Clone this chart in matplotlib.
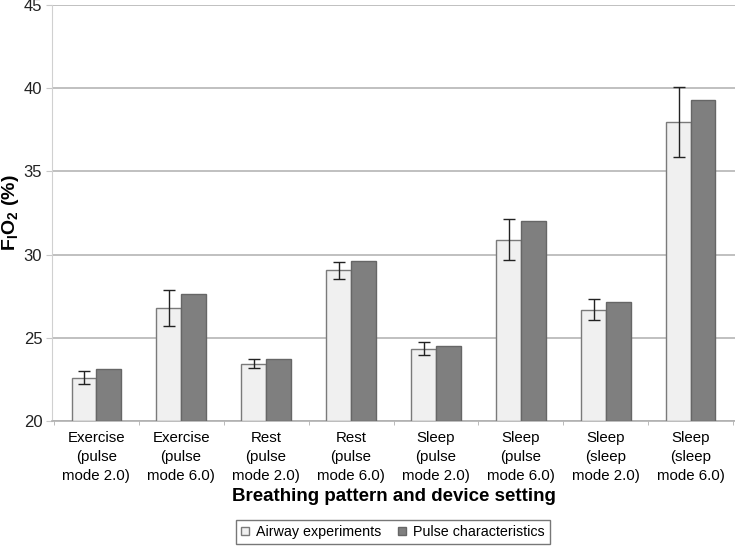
import numpy as np
import matplotlib.pyplot as plt
from matplotlib.ticker import FixedLocator

plt.rcParams['font.family'] = ['Liberation Sans', 'DejaVu Sans']
plt.rcParams['mathtext.fontset'] = 'custom'
plt.rcParams['mathtext.rm'] = 'Liberation Sans'
plt.rcParams['mathtext.bf'] = 'Liberation Sans:bold'

categories = [
    "Exercise\n(pulse\nmode 2.0)", "Exercise\n(pulse\nmode 6.0)",
    "Rest\n(pulse\nmode 2.0)", "Rest\n(pulse\nmode 6.0)",
    "Sleep\n(pulse\nmode 2.0)", "Sleep\n(pulse\nmode 6.0)",
    "Sleep\n(sleep\nmode 2.0)", "Sleep\n(sleep\nmode 6.0)",
]
airway = [22.6, 26.8, 23.45, 29.05, 24.35, 30.9, 26.7, 37.95]
airway_err = [0.4, 1.1, 0.25, 0.5, 0.4, 1.25, 0.65, 2.1]
pulse = [23.1, 27.65, 23.7, 29.6, 24.5, 32.0, 27.15, 39.3]

fig = plt.figure(figsize=(7.35, 5.47), dpi=100)
ax = fig.add_axes([52 / 735, 1 - 421 / 547, 1 - 52 / 735, (421 - 5) / 547])

x = np.arange(len(categories))
w = 0.29
ax.bar(x - w / 2, [a - 20 for a in airway], w, bottom=20, color="#f0f0f0",
       edgecolor="#7a7a7a", linewidth=1, label="Airway experiments", zorder=3)
ax.bar(x + w / 2, [p - 20 for p in pulse], w, bottom=20, color="#7f7f7f",
       edgecolor="#666666", linewidth=1, label="Pulse characteristics", zorder=3)
ax.errorbar(x - w / 2, airway, yerr=airway_err, fmt="none", ecolor="#222222",
            elinewidth=1, capsize=4, capthick=1, zorder=4)

ax.set_ylim(20, 45)
ax.set_xlim(-0.52, len(categories) - 0.48)
ax.set_yticks(range(20, 46, 5))
ax.yaxis.grid(True, color="#b5b5b5", linewidth=1.2, zorder=0)
ax.set_axisbelow(True)
ax.set_xticks(x)
ax.set_xticklabels(categories, fontsize=10.8, linespacing=1.45)
ax.xaxis.set_minor_locator(FixedLocator(np.arange(len(categories) + 1) - 0.5))
ax.tick_params(axis="x", which="major", length=0, pad=7)
ax.tick_params(axis="x", which="minor", length=3, color="#b0b0b0")
ax.tick_params(axis="y", length=4, color="#c8c8c8", labelsize=12, pad=3,
               labelcolor="#222222")
for s in ["top", "right"]:
    ax.spines[s].set_visible(False)
ax.spines["left"].set_color("#d0d0d0")
ax.spines["bottom"].set_color("#b0b0b0")
ax.spines["bottom"].set_linewidth(1.2)

ax.set_xlabel("Breathing pattern and device setting", fontsize=13.5,
              fontweight="bold", labelpad=4)
ax.set_ylabel(r"$\mathbf{F_{I}O_{2}}$ (%)", fontsize=14, fontweight="bold")
ax.yaxis.set_label_coords(-31 / 683, 0.5)

leg = fig.legend(loc="center", bbox_to_anchor=(393 / 735, 1 - 532 / 547),
                 ncol=2, fontsize=10.3, frameon=True, fancybox=False,
                 handlelength=0.55, handleheight=0.55, handletextpad=0.5,
                 columnspacing=1.2, borderpad=0.35)
leg.get_frame().set_edgecolor("#555555")
leg.get_frame().set_linewidth(1)

fig.savefig("out.png", dpi=100)
